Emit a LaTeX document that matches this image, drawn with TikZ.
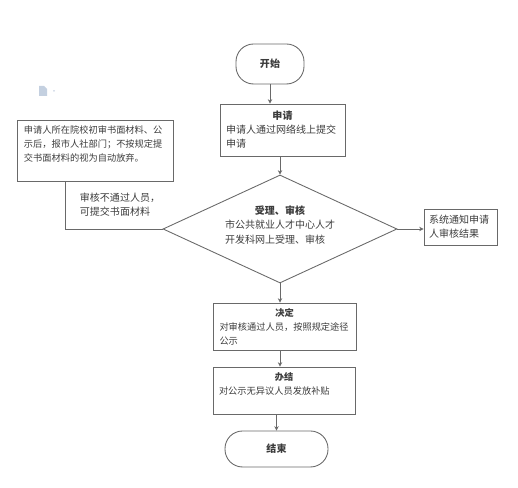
\documentclass[tikz,border=0pt]{standalone}
\usepackage{fontspec}
\setmainfont{Noto Sans CJK SC}
\usetikzlibrary{shapes.geometric, arrows.meta, positioning}
\definecolor{lineGray}{RGB}{105, 105, 105}
\definecolor{textGray}{RGB}{60, 60, 60}
\definecolor{iconBlue}{RGB}{196, 208, 224}
\newcommand{\boxtitle}[1]{\makebox[\linewidth]{\textbf{#1}}}

\begin{document}
\begin{tikzpicture}[
  flowbox/.style={draw=lineGray, line width=0.5pt, text=textGray, align=left, inner sep=0pt, font=\fontsize{5.7}{8}\selectfont},
  smallbox/.style={flowbox, font=\fontsize{5.25}{8}\selectfont},
  capsule/.style={flowbox, rounded corners=10pt, align=center},
  check/.style={flowbox, shape=diamond, aspect=2.17, text width=2.2cm, minimum width=4.68cm, minimum height=2.16cm},
  flowtext/.style={text=textGray, align=left, inner sep=0pt, font=\fontsize{5.7}{8}\selectfont},
  flowline/.style={draw=lineGray, line width=0.5pt},
  flowarrow/.style={flowline, -{Stealth[length=2.5pt, width=2.5pt]}}
]
  \useasboundingbox (0, 0) rectangle (10.36, 9.76);

  % main column
  \node[capsule, minimum width=1.36cm, minimum height=0.8cm] (start) at (5.40, 8.48) {\textbf{开始}};
  \node[flowbox, minimum width=2.5cm, minimum height=1.04cm, text width=2.26cm] (apply) at (5.65, 7.16) {
    \boxtitle{申请}\\申请人通过网络线上提交\\申请
  };
  \node[check] (review) at (5.60, 5.18) {
    \boxtitle{受理、审核}\\市公共就业人才中心人才\\开发科网上受理、审核\\[-3pt]~
  };
  \node[smallbox, minimum width=2.86cm, minimum height=0.94cm, text width=2.6cm] (decide) at (5.69, 3.23) {
    \boxtitle{决定}\\对审核通过人员，按照规定途径\\公示
  };
  \node[smallbox, minimum width=2.84cm, minimum height=0.94cm, text width=2.6cm] (finish) at (5.68, 1.95) {
    \boxtitle{办结}\\对公示无异议人员发放补贴\\~
  };
  \node[capsule, minimum width=2.06cm, minimum height=0.72cm] (stop) at (5.53, 0.78) {\textbf{结束}};

  % side boxes
  \node[smallbox, minimum width=3.12cm, minimum height=1.22cm, text width=2.84cm] (material) at (1.90, 6.75) {
    申请人所在院校初审书面材料、公\\示后，报市人社部门；不按规定提\\交书面材料的视为自动放弃。\\~
  };
  \node[flowbox, minimum width=1.46cm, minimum height=0.72cm, text width=1.26cm] (notify) at (9.21, 5.22) {
    系统通知申请\\人审核结果
  };
  \node[flowtext] (reject) at (2.40, 5.67) {审核不通过人员，\\可提交书面材料};

  % connectors
  \coordinate (turn) at (1.30, 5.18);
  \draw[flowarrow] (start.south) -- (start.south |- apply.north);
  \draw[flowarrow] (apply.south -| review.north) -- (review.north);
  \draw[flowarrow] (review.south) -- (review.south |- decide.north);
  \draw[flowarrow] (decide.south -| review.south) -- (review.south |- finish.north);
  \draw[flowarrow] (finish.south -| stop.north) -- (stop.north);
  \draw[flowarrow] (review.east) -- (review.east -| notify.west);
  \draw[flowline] (review.west) -- (turn) -- (turn |- material.south);

  % page icon
  \fill[iconBlue] (0.78, 7.84) -- (0.78, 8.04) -- (0.88, 8.04) -- (0.94, 7.98) -- (0.94, 7.84) -- cycle;
  \fill[iconBlue] (1.06, 7.95) -- (1.10, 7.95) -- (1.08, 7.92) -- cycle;
\end{tikzpicture}
\end{document}
